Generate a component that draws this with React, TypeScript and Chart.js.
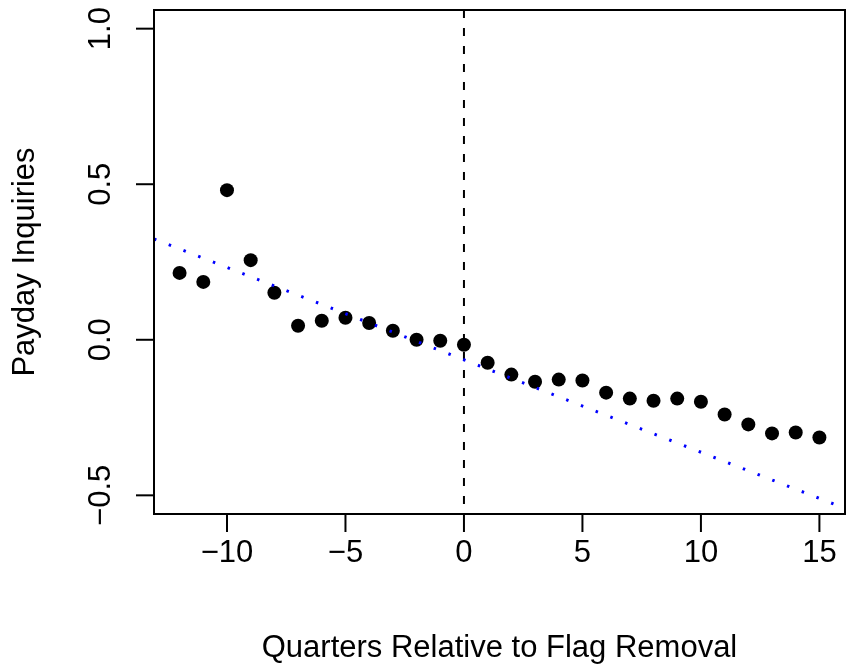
import React, { useEffect, useRef } from "react";
import { Chart, registerables } from "chart.js";

Chart.register(...registerables);

const quarters = [-12, -11, -10, -9, -8, -7, -6, -5, -4, -3, -2, -1, 0, 1, 2, 3, 4, 5, 6, 7, 8, 9, 10, 11, 12, 13, 14, 15];
const inquiries = [0.215, 0.186, 0.481, 0.256, 0.151, 0.045, 0.061, 0.071, 0.054, 0.029, 0.0, -0.003, -0.016, -0.074, -0.112, -0.135, -0.128, -0.131, -0.170, -0.189, -0.196, -0.189, -0.199, -0.240, -0.272, -0.301, -0.298, -0.314];
const trendX = [-13.08, 16.08];
const trendY = [0.324, -0.542];
const xTicks = [-10, -5, 0, 5, 10, 15];
const yTicks = [-0.5, 0, 0.5, 1.0];
const yTickLabels = ["\u22120.5", "0.0", "0.5", "1.0"];
const xTickLabels = ["\u221210", "\u22125", "0", "5", "10", "15"];
const xTitle = "Quarters Relative to Flag Removal";
const yTitle = "Payday Inquiries";

const FONT = "31px 'Liberation Sans', Arial, Helvetica, sans-serif";

const rAxesPlugin = {
  id: "rAxes",
  afterDraw(chart: any) {
    const ctx = chart.ctx;
    const { left, right, top, bottom } = chart.chartArea;
    const xs = chart.scales.x;
    const ys = chart.scales.y;
    ctx.save();
    ctx.strokeStyle = "#000";
    ctx.lineWidth = 2;
    ctx.setLineDash([]);
    ctx.strokeRect(left, top, right - left, bottom - top);
    const tick = 18;
    ctx.fillStyle = "#000";
    ctx.font = FONT;
    ctx.textAlign = "center";
    ctx.textBaseline = "middle";
    xTicks.forEach((v, i) => {
      const px = xs.getPixelForValue(v);
      ctx.beginPath();
      ctx.moveTo(px, bottom);
      ctx.lineTo(px, bottom + tick);
      ctx.stroke();
      ctx.fillText(xTickLabels[i], px, bottom + 39);
    });
    ctx.fillText(xTitle, (left + right) / 2, bottom + 134);
    yTicks.forEach((v, i) => {
      const py = ys.getPixelForValue(v);
      ctx.beginPath();
      ctx.moveTo(left, py);
      ctx.lineTo(left - tick, py);
      ctx.stroke();
      ctx.save();
      ctx.translate(left - 53, py);
      ctx.rotate(-Math.PI / 2);
      ctx.fillText(yTickLabels[i], 0, 0);
      ctx.restore();
    });
    ctx.save();
    ctx.translate(25, (top + bottom) / 2);
    ctx.rotate(-Math.PI / 2);
    ctx.fillText(yTitle, 0, 0);
    ctx.restore();
    ctx.restore();
  },
  beforeDatasetsDraw(chart: any) {
    const ctx = chart.ctx;
    const { top, bottom } = chart.chartArea;
    const px = chart.scales.x.getPixelForValue(0);
    ctx.save();
    ctx.strokeStyle = "#000";
    ctx.lineWidth = 2;
    ctx.setLineDash([8, 10]);
    ctx.beginPath();
    ctx.moveTo(px, top);
    ctx.lineTo(px, bottom);
    ctx.stroke();
    ctx.restore();
  },
};

export default function App() {
  const ref = useRef<HTMLCanvasElement>(null);
  useEffect(() => {
    if (!ref.current) return;
    const chart = new Chart(ref.current, {
      type: "scatter",
      data: {
        datasets: [
          {
            label: "trend",
            type: "line",
            data: trendX.map((x, i) => ({ x, y: trendY[i] })),
            borderColor: "#0000ff",
            borderWidth: 3,
            borderDash: [2.5, 13.3],
            pointRadius: 0,
            fill: false,
          } as any,
          {
            label: "points",
            data: quarters.map((x, i) => ({ x, y: inquiries[i] })),
            backgroundColor: "#000",
            borderColor: "#000",
            pointRadius: 7,
            pointBorderWidth: 0,
          },
        ],
      },
      options: {
        animation: false,
        responsive: false,
        events: [],
        layout: { autoPadding: false, padding: { left: 154, top: 10, right: 1, bottom: 154 } },
        plugins: { legend: { display: false }, tooltip: { enabled: false } },
        scales: {
          x: {
            type: "linear",
            min: -13.08,
            max: 16.08,
            ticks: { display: false },
            grid: { display: false, drawTicks: false },
            border: { display: false },
          },
          y: {
            type: "linear",
            min: -0.56,
            max: 1.06,
            ticks: { display: false },
            grid: { display: false, drawTicks: false },
            border: { display: false },
          },
        },
      },
      plugins: [rAxesPlugin],
    });
    return () => chart.destroy();
  }, []);
  return (
    <div style={{ position: "absolute", left: 0, top: 0, width: 846, height: 668, background: "#fff" }}>
      <canvas ref={ref} width={846} height={668} style={{ display: "block" }} />
    </div>
  );
}
